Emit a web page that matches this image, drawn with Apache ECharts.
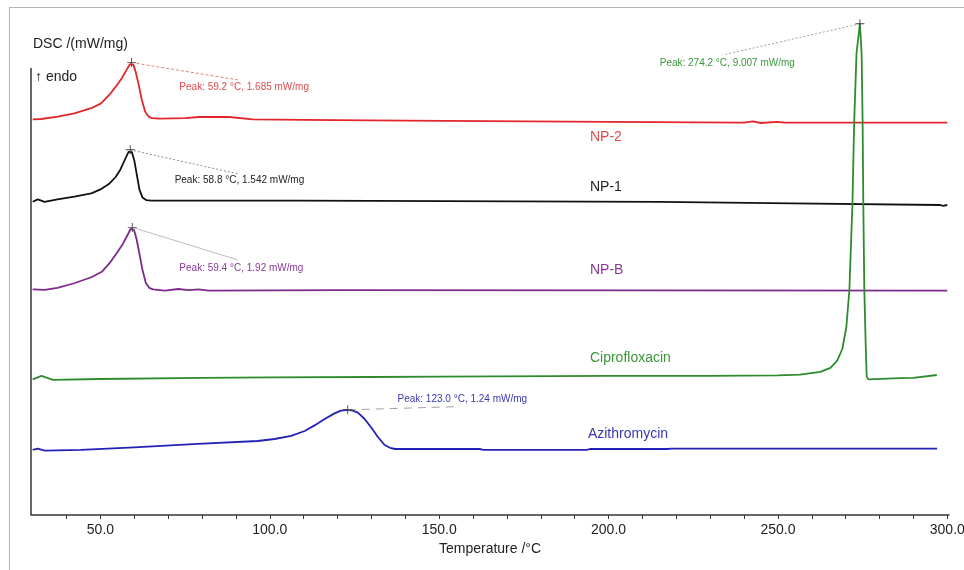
<!DOCTYPE html>
<html>
<head>
	<meta charset="utf-8" />
	<title>DSC</title>
	<style>
		html, body { margin: 0; padding: 0; background: #fff; }
		#frame { position: absolute; left: 9px; top: 7px; width: 960px; height: 580px; border: 1px solid #b4b4b4; pointer-events: none; }
		#dsc { position: absolute; left: 0; top: 0; width: 964px; height: 570px; }
	</style>
	<script src="https://cdn.jsdelivr.net/npm/echarts@6/dist/echarts.min.js"></script>
</head>
<body>
	<div id="dsc"></div>
	<div id="frame"></div>
	<script type="text/javascript">
		// [temperature °C, shifted DSC signal]
		const npTwo = [
			[30, 9.89], [32.5, 9.90], [37.4, 9.96], [42.3, 10.04], [47.3, 10.17], [50.2, 10.29],
			[52.8, 10.52], [54.8, 10.74], [56.3, 10.92], [57.8, 11.14], [58.7, 11.27], [59.2, 11.31],
			[59.7, 11.26], [60.4, 11.08], [61.2, 10.79], [62.2, 10.38], [63.2, 10.08], [64.2, 9.96],
			[65.2, 9.92], [67.4, 9.91], [75, 9.92], [79, 9.95], [88, 9.95], [95, 9.89], [110, 9.88],
			[140, 9.86], [200, 9.83], [240, 9.81], [242.6, 9.84], [245, 9.80], [249.7, 9.83],
			[252, 9.81], [300, 9.81]
		];
		const npOne = [
			[30, 7.83], [31.5, 7.89], [33.5, 7.83], [37.3, 7.89], [42.3, 7.96], [47.3, 8.04],
			[50.0, 8.14], [52.7, 8.29], [54.5, 8.45], [55.9, 8.64], [57.3, 8.90], [58.3, 9.08],
			[58.8, 9.13], [59.3, 9.07], [60.0, 8.86], [60.8, 8.48], [61.5, 8.14], [62.4, 7.94],
			[63.6, 7.87], [65, 7.86], [108.8, 7.86], [215.1, 7.83], [215.4, 7.79], [254.4, 7.79],
			[254.7, 7.75], [297.9, 7.75], [298.7, 7.73], [300, 7.75]
		];
		const npB = [
			[30, 5.64], [33.5, 5.63], [37.3, 5.68], [42.5, 5.80], [47.5, 5.95], [50.4, 6.08],
			[53.0, 6.33], [55.0, 6.57], [56.5, 6.76], [58.0, 7.00], [58.9, 7.15], [59.4, 7.19],
			[59.9, 7.13], [60.6, 6.92], [61.4, 6.58], [62.4, 6.13], [63.4, 5.80], [64.4, 5.68],
			[65.5, 5.64], [69, 5.61], [73, 5.65], [76, 5.62], [79, 5.64], [82, 5.61], [120, 5.62],
			[300, 5.61]
		];
		const cipro = [
			[30, 3.39], [32.6, 3.48], [36, 3.38], [50, 3.40], [80, 3.43], [100, 3.44], [130, 3.45],
			[150, 3.46], [200, 3.48], [230, 3.48], [250, 3.49], [256.5, 3.51], [262.5, 3.58],
			[265.5, 3.68], [267.5, 3.86], [269.0, 4.15], [270.2, 4.70], [271.1, 5.63], [272.0, 7.80],
			[272.5, 9.80], [273.2, 11.55], [274.2, 12.28], [274.7, 11.55], [275.0, 9.80], [275.2, 7.80],
			[275.5, 5.63], [275.9, 4.30], [276.2, 3.46], [276.7, 3.39], [286.0, 3.42], [290, 3.43],
			[296.9, 3.50]
		];
		const azithro = [
			[30, 1.63], [31.5, 1.66], [33.5, 1.61], [44.3, 1.63], [60, 1.69], [78.7, 1.78],
			[96.4, 1.85], [101.4, 1.90], [106.3, 1.98], [110.3, 2.10], [113.2, 2.24], [116.2, 2.40],
			[119.1, 2.54], [121.0, 2.61], [123.0, 2.63], [124.5, 2.61], [126.0, 2.56], [128.0, 2.40],
			[130.0, 2.18], [131.9, 1.95], [133.9, 1.75], [135.5, 1.68], [137.0, 1.65], [162, 1.65],
			[163, 1.63], [193.6, 1.63], [194.5, 1.65], [217.5, 1.65], [218.5, 1.66], [297, 1.66]
		];

		const sampleNames = ['NP-2', 'NP-1', 'NP-B', 'Ciprofloxacin', 'Azithromycin'];
		const peakTemps = [59.2, 58.8, 59.4, 274.2, 123.0];
		const peakValues = ['1.685', '1.542', '1.92', '9.007', '1.24'];
		const tickLabels = [50, 100, 150, 200, 250, 300];
		const minorTicks = [40, 50, 60, 70, 80, 90, 100, 110, 120, 130, 140, 150, 160, 170, 180, 190, 200,
			210, 220, 230, 240, 250, 260, 270, 280, 290, 300];

		const xMin = 29.5, xMax = 300.5;
		const axisTop = 11.175; // where the drawn y axis stops

		// look of each curve + where its annotations sit (data coords)
		const curves = [
			{ data: npTwo, color: '#e2262c', text: '#e04a4e', lead: { color: '#e08080', type: [3, 2] },
				leadEnd: [90.5, 10.88], peakText: [73.3, 10.70], nameAt: [194.5, 9.45] },
			{ data: npOne, color: '#111111', text: '#222222', lead: { color: '#8a8a8a', type: [2, 2] },
				leadEnd: [90.5, 8.53], peakText: [71.9, 8.38], nameAt: [194.5, 8.20] },
			{ data: npB, color: '#7e2a8c', text: '#8a3a98', lead: { color: '#bdbdbd', type: 'solid' },
				leadEnd: [90.5, 6.38], peakText: [73.3, 6.18], nameAt: [194.5, 6.13] },
			{ data: cipro, color: '#2e8c2e', text: '#3a963a', lead: { color: '#9aa79a', type: [2, 2] },
				leadEnd: [233.7, 11.50], peakText: [215.1, 11.30], nameAt: [194.5, 3.93] },
			{ data: azithro, color: '#2222b6', text: '#3838b0', lead: { color: '#a0a0a0', type: [8, 6] },
				leadEnd: [156.1, 2.71], peakText: [137.7, 2.90], nameAt: [193.9, 2.03] }
		];

		const crossPath = 'path://M-0.5,-5h1v10h-1zM-5,-0.5h10v1h-10z';
		const font = 'Arial, "Liberation Sans", sans-serif';

		const series = curves.map(function (c, i) {
			let top = c.data.reduce(function (a, b) { return b[1] > a[1] ? b : a; });
			let peak = [peakTemps[i], top[1]];
			let lines = [[{ coord: peak }, { coord: c.leadEnd }]];
			if (i === 0) {
				// the y axis itself, only up to axisTop
				lines.push([
					{ coord: [xMin, 0], lineStyle: { color: '#333', type: 'solid', width: 1.5 } },
					{ coord: [xMin, axisTop] }
				]);
			}
			return {
				name: sampleNames[i],
				type: 'line',
				data: c.data,
				showSymbol: false,
				symbol: 'none',
				smooth: false,
				silent: true,
				lineStyle: { color: c.color, width: 1.8, join: 'round' },
				markLine: {
					silent: true,
					symbol: ['none', 'none'],
					label: { show: false },
					lineStyle: { color: c.lead.color, type: c.lead.type, width: 1 },
					data: lines
				},
				markPoint: {
					silent: true,
					data: [
						{ coord: peak, symbol: crossPath, symbolSize: 9, itemStyle: { color: '#444' }, label: { show: false } },
						{
							coord: c.peakText, symbol: 'circle', symbolSize: 0,
							label: {
								show: true, position: 'right', distance: 0, color: c.text, fontSize: 10,
								fontFamily: font,
								formatter: 'Peak: ' + peakTemps[i].toFixed(1) + ' °C, ' + peakValues[i] + ' mW/mg'
							}
						},
						{
							coord: c.nameAt, symbol: 'circle', symbolSize: 0,
							label: {
								show: true, position: 'right', distance: 0, color: c.text, fontSize: 14,
								fontFamily: font,
								formatter: sampleNames[i]
							}
						}
					]
				}
			};
		});

		const chart = echarts.init(document.getElementById('dsc'));
		chart.setOption({
			animation: false,
			textStyle: { fontFamily: font },
			title: [{
				text: 'DSC /(mW/mg)',
				left: 33,
				top: 37,
				padding: 0,
				textStyle: { fontSize: 14, fontWeight: 'normal', color: '#222' }
			}, {
				text: '↑ endo',
				left: 35,
				top: 70,
				padding: 0,
				textStyle: { fontSize: 14, fontWeight: 'normal', color: '#222' }
			}],
			grid: { left: 31, right: 15, top: 20, bottom: 55, outerBoundsMode: 'none' },
			xAxis: {
				type: 'value',
				min: xMin,
				max: xMax,
				name: 'Temperature /°C',
				nameLocation: 'middle',
				nameGap: 27,
				nameTextStyle: { fontSize: 14, color: '#222' },
				splitLine: { show: false },
				axisLine: { show: true, lineStyle: { color: '#333', width: 1.5 } },
				axisTick: { show: true, length: 4, customValues: minorTicks, lineStyle: { color: '#333' } },
				axisLabel: {
					customValues: tickLabels,
					fontSize: 14,
					color: '#222',
					margin: 8,
					formatter: function (v) { return v.toFixed(1); }
				}
			},
			yAxis: {
				type: 'value',
				min: 0,
				max: 12.375,
				splitLine: { show: false },
				axisLine: { show: false },
				axisTick: { show: false },
				axisLabel: { show: false }
			},
			series: series
		});
	</script>
</body>
</html>
